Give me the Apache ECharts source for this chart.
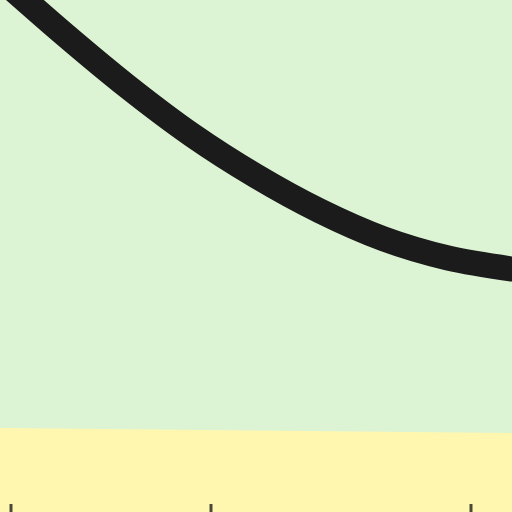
<!DOCTYPE html>
<html>

<head>
    <meta charset="utf-8">
    <title>ECharts</title>
    <script src="https://cdn.jsdelivr.net/npm/echarts@6/dist/echarts.min.js"></script>
    <style>
        html, body { margin: 0; padding: 0; }
    </style>
</head>

<body>
    <div id="main" style="width: 512px;height:512px;"></div>
    <script type="text/javascript">
        // curve values
        var curveX = [0, 64, 128, 192, 256, 320, 384, 448, 512, 576];
        var curveY = [534, 478, 425, 377, 336, 301, 273, 254, 243, 236];
        // lower band edge
        var bandX = [0, 512];
        var bandY = [84, 79];
        // tick positions on the x axis
        var tickValues = [11, 211, 471];

        function pairs(xs, ys) {
            var res = [];
            for (var i = 0; i < xs.length; i++) {
                res.push([xs[i], ys[i]]);
            }
            return res;
        }

        var myChart = echarts.init(document.getElementById('main'));
        var option = {
            backgroundColor: '#dcf4d3',
            animation: false,
            grid: { left: 0, right: 0, top: 0, bottom: 0 },
            xAxis: {
                type: 'value',
                min: 0,
                max: 512,
                show: false
            },
            yAxis: {
                type: 'value',
                min: 0,
                max: 512,
                show: false
            },
            series: [{
                type: 'line',
                data: pairs(bandX, bandY),
                symbol: 'none',
                lineStyle: { width: 0 },
                areaStyle: { color: '#fff7b0', opacity: 1 },
                z: 1
            }, {
                type: 'line',
                data: pairs(curveX, curveY),
                smooth: 0.3,
                symbol: 'none',
                lineStyle: { color: '#1b1b1b', width: 25 },
                z: 3
            }, {
                // axis ticks, cut by the bottom edge
                type: 'scatter',
                data: tickValues.map(function (v) { return [v, 0]; }),
                symbol: 'rect',
                symbolSize: [3, 16],
                itemStyle: { color: '#1b1b1b' },
                silent: true,
                z: 4
            }]
        };
        myChart.setOption(option);
    </script>
</body>

</html>
